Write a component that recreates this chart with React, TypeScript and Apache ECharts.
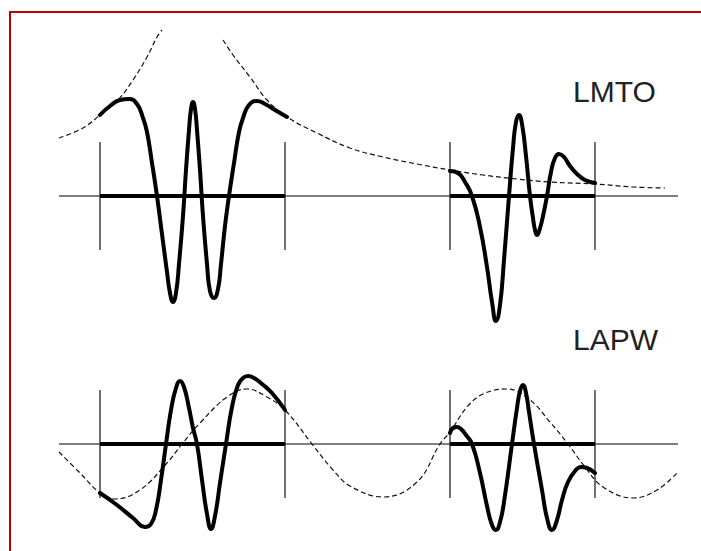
import React, { useEffect, useRef } from "react";
import * as echarts from "echarts";

// Muffin-tin sphere boundaries (x units) and sphere-line half height
const sphereEdges = [0, 18.5, 35, 49.5];
const sphereSpans = [[0, 18.5], [35, 49.5]];
const edgeHalfHeight = 5.4;
const baselineExtent = [-4.1, 57.8];

// LMTO panel (top)
const lmtoEnvelopeLeft = [
  [-4.1, 5.8], [-1.7, 6.8], [0, 8.1], [1.8, 9.6], [3.3, 11.6], [4.7, 13.9], [5.7, 15.9], [6.2, 16.6],
];
const lmtoEnvelopeRight = [
  [12.3, 15.6], [13.3, 14.1], [15, 11.9], [16.7, 9.6], [18.7, 7.9], [21.7, 6.3], [25, 4.8], [28.3, 3.9],
  [31.7, 3.2], [35, 2.6], [38.3, 2.1], [41.7, 1.7], [45, 1.4], [49.5, 1.2], [53.3, 0.9], [56.5, 0.8],
];
const lmtoSolidLeft = [
  [0, 8.1], [1.0, 9.0], [2.0, 9.6], [2.9, 9.7], [3.7, 9.2], [4.3, 7.8], [4.7, 6.4], [5.2, 3.3], [5.7, 0],
  [6.2, -3.8], [6.7, -7.6], [7.0, -9.7], [7.3, -10.6], [7.6, -9.7], [7.9, -6.8], [8.3, -2.0], [8.6, 2.6],
  [8.9, 6.6], [9.1, 8.7], [9.3, 9.4], [9.5, 8.7], [9.7, 6.6], [10.0, 2.6], [10.3, -2.0], [10.7, -6.8],
  [11.0, -9.5], [11.4, -10.2], [11.8, -9.3], [12.1, -6.8], [12.5, -3.0], [12.9, 0], [13.4, 3.3],
  [13.9, 6.4], [14.3, 7.8], [14.9, 9.1], [15.7, 9.5], [16.5, 9.2], [17.5, 8.6], [18.7, 7.9],
];
const lmtoSolidRight = [
  [35, 2.5], [35.8, 2.3], [36.5, 1.4], [37.2, 0], [38, -3.1], [38.7, -7.1], [39.2, -10.6], [39.6, -12.5],
  [40.0, -10.9], [40.4, -6.4], [40.9, 0], [41.3, 4.8], [41.6, 7.4], [41.9, 8.1], [42.2, 7.2], [42.6, 4.0],
  [43.0, 0], [43.3, -2.2], [43.5, -3.4], [43.7, -3.9], [43.95, -3.4], [44.3, -2.0], [44.7, 0],
  [45.1, 2.4], [45.5, 3.8], [45.9, 4.2], [46.4, 3.9], [47.0, 3.0], [47.7, 2.2], [48.5, 1.6], [49.5, 1.3],
];

// LAPW panel (bottom)
const lapwPlaneWave = [
  [-4.1, -0.8], [-2, -2.9], [0, -4.9], [1.5, -5.5], [4, -4.6], [6.7, -1.9], [8.2, 0], [10, 2.1],
  [12.7, 4.7], [14.7, 5.5], [16.7, 4.7], [18.5, 3.4], [21.2, 0], [23.3, -2.6], [25, -4.2], [28.3, -5.3],
  [31.7, -3.8], [34, 0], [35, 1.2], [36.7, 3.7], [38.3, 5.0], [40.7, 5.5], [43, 4.4], [45, 2.2],
  [46.8, 0], [48.5, -2.3], [50.3, -4.3], [53.3, -5.4], [55.7, -4.6], [57.8, -2.8],
];
const lapwSolidLeft = [
  [0, -4.9], [1.7, -6.1], [3.3, -7.4], [4.5, -8.3], [5.1, -8.0], [5.6, -6.6], [6.1, -3.6], [6.6, 0],
  [7.1, 3.4], [7.6, 5.6], [8.0, 6.3], [8.4, 5.7], [8.9, 3.6], [9.3, 1.6], [9.7, 0], [10.2, -3.6],
  [10.7, -7.0], [11.1, -8.5], [11.5, -7.2], [12.0, -3.9], [12.6, 0], [13.2, 3.7], [13.8, 5.9],
  [14.3, 6.6], [14.8, 6.8], [15.4, 6.6], [16.2, 6.0], [17.2, 5.1], [18.5, 3.4],
];
const lapwSolidRight = [
  [35, 1.1], [35.3, 1.6], [35.7, 1.7], [36.1, 1.5], [36.6, 0.9], [37.2, 0], [38, -2.9], [38.7, -6.2],
  [39.2, -8.1], [39.6, -8.6], [40.0, -7.8], [40.4, -5.8], [41.2, 0], [41.7, 3.6], [42.0, 5.3],
  [42.3, 5.9], [42.6, 5.1], [42.9, 3.2], [43.4, 0], [44.2, -4.6], [44.7, -7.4], [45.2, -8.6],
  [45.7, -7.6], [46.2, -5.6], [46.8, -3.8], [47.5, -2.7], [48.1, -2.3], [48.7, -2.4], [49.5, -2.9],
];

const panelLabels = ["LMTO", "LAPW"];

function panelSeries(idx: number, dashed: number[][][], solid: number[][][]) {
  const base = { type: "line", xAxisIndex: idx, yAxisIndex: idx, showSymbol: false, symbol: "none", clip: false, silent: true };
  const out: any[] = [];
  out.push({ ...base, data: [[baselineExtent[0], 0], [baselineExtent[1], 0]], lineStyle: { color: "#000", width: 1.2 } });
  sphereSpans.forEach((s) =>
    out.push({ ...base, data: [[s[0], 0], [s[1], 0]], lineStyle: { color: "#000", width: 4 } })
  );
  sphereEdges.forEach((e) =>
    out.push({ ...base, data: [[e, edgeHalfHeight], [e, -edgeHalfHeight]], lineStyle: { color: "#111", width: 1.2 } })
  );
  dashed.forEach((d) =>
    out.push({ ...base, data: d, smooth: 0.4, lineStyle: { color: "#111", width: 1.2, type: [5, 3] } })
  );
  solid.forEach((d) =>
    out.push({ ...base, data: d, smooth: 0.5, lineStyle: { color: "#000", width: 4, cap: "round", join: "round" } })
  );
  return out;
}

export default function App() {
  const ref = useRef<HTMLDivElement>(null);
  useEffect(() => {
    document.body.style.margin = "0";
    const chart = echarts.init(ref.current!, undefined, { renderer: "svg" });
    const axisX = (i: number) => ({ type: "value", gridIndex: i, min: -4.1, max: 58.0, show: false, splitLine: { show: false } });
    chart.setOption({
      animation: false,
      backgroundColor: "#ffffff",
      grid: [
        { left: 59, right: 21, top: 16, height: 320 },
        { left: 59, right: 21, top: 344, height: 200 },
      ],
      xAxis: [axisX(0), axisX(1)],
      yAxis: [
        { type: "value", gridIndex: 0, min: -14, max: 18, show: false, splitLine: { show: false } },
        { type: "value", gridIndex: 1, min: -10, max: 10, show: false, splitLine: { show: false } },
      ],
      series: [
        ...panelSeries(0, [lmtoEnvelopeLeft, lmtoEnvelopeRight], [lmtoSolidLeft, lmtoSolidRight]),
        ...panelSeries(1, [lapwPlaneWave], [lapwSolidLeft, lapwSolidRight]),
      ],
      graphic: [
        { type: "line", shape: { x1: 10, y1: 12, x2: 701, y2: 12 }, style: { stroke: "#c00000", lineWidth: 2 } },
        { type: "line", shape: { x1: 10, y1: 11, x2: 10, y2: 551 }, style: { stroke: "#c00000", lineWidth: 2 } },
        {
          type: "text", left: 573, top: 76,
          style: { text: panelLabels[0], fontFamily: "Liberation Sans, Arial, sans-serif", fontSize: 30, fill: "#222" },
        },
        {
          type: "text", left: 573, top: 324,
          style: { text: panelLabels[1], fontFamily: "Liberation Sans, Arial, sans-serif", fontSize: 30, fill: "#222" },
        },
      ],
    });
    return () => chart.dispose();
  }, []);
  return <div ref={ref} style={{ width: 701, height: 551 }} />;
}
